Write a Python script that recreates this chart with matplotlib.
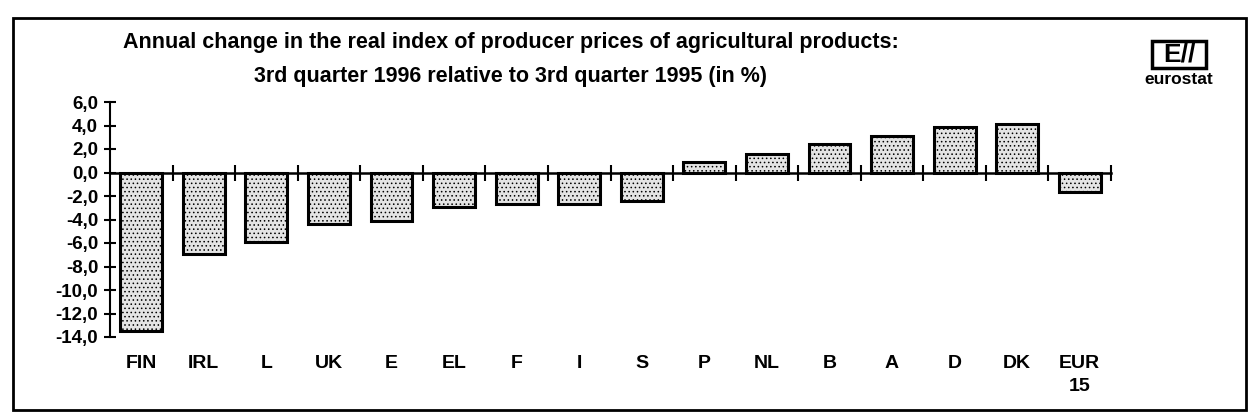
import matplotlib
matplotlib.use("Agg")
import matplotlib.pyplot as plt
from matplotlib.patches import Rectangle
from matplotlib.ticker import FuncFormatter
import matplotlib.transforms as mtransforms

# data
countries = ["FIN", "IRL", "L", "UK", "E", "EL", "F", "I", "S",
             "P", "NL", "B", "A", "D", "DK", "EUR\n15"]
change = [-13.5, -6.9, -5.9, -4.4, -4.1, -2.9, -2.7, -2.7, -2.4,
          0.9, 1.6, 2.4, 3.1, 3.9, 4.1, -1.7]
yticks = [6, 4, 2, 0, -2, -4, -6, -8, -10, -12, -14]

plt.rcParams['font.family'] = ['Liberation Sans', 'DejaVu Sans']
plt.rcParams['hatch.color'] = '#9a9a9a'
plt.rcParams['hatch.linewidth'] = 0.6

W, H = 1252, 420
fig = plt.figure(figsize=(W/100, H/100), dpi=100)
ax = fig.add_axes([110/W, 1-337/H, (1111-110)/W, (337-102)/H])

x = list(range(len(countries)))
ax.bar(x, change, width=0.67, facecolor='#e4e4e4', edgecolor='black',
       linewidth=2.2, hatch='....', zorder=2)

ax.set_xlim(-0.5, len(countries) - 0.5)
ax.set_ylim(-14, 6)
ax.set_yticks(yticks)
ax.yaxis.set_major_formatter(FuncFormatter(lambda v, p: ("%.1f" % v).replace(".", ",")))
ax.tick_params(axis='y', direction='inout', length=9, width=1.5, labelsize=13.5, pad=4)
for lab in ax.get_yticklabels():
    lab.set_fontweight('bold')

ax.set_xticks([i + 0.5 for i in x])
ax.tick_params(axis='x', direction='inout', length=11, width=1.5, labelbottom=False)

for s in ['top', 'right']:
    ax.spines[s].set_visible(False)
ax.spines['bottom'].set_position(('data', 0))
ax.spines['bottom'].set_linewidth(1.8)
ax.spines['bottom'].set_zorder(3)
ax.spines['left'].set_linewidth(1.5)
ax.spines['left'].set_bounds(-14, 6)

trans = mtransforms.blended_transform_factory(ax.transData, ax.transAxes)
for i, c in enumerate(countries):
    ax.text(i, -0.075, c, transform=trans, ha='center', va='top',
            fontsize=14, fontweight='bold', linespacing=1.5)

fig.text(0.408, 1-48/H, "Annual change in the real index of producer prices of agricultural products:",
         ha='center', va='baseline', fontsize=15.5, fontweight='bold')
fig.text(0.408, 1-82/H, "3rd quarter 1996 relative to 3rd quarter 1995 (in %)",
         ha='center', va='baseline', fontsize=15.5, fontweight='bold')

# frame around the whole chart
fig.patches.append(Rectangle((13/W, 10/H), (1246-13)/W, (405-13)/H,
                             transform=fig.transFigure, fill=False,
                             edgecolor='black', linewidth=2))

# eurostat logo
fig.patches.append(Rectangle((1152/W, 1-68/H), 54/W, 27/H,
                             transform=fig.transFigure, fill=False,
                             edgecolor='black', linewidth=2.5))
fig.text(1179/W, 1-55/H, "E//", ha='center', va='center',
         fontsize=19, fontweight='bold')
fig.text(1179/W, 1-80/H, "eurostat", ha='center', va='center',
         fontsize=12.5, fontweight='bold')

fig.savefig("out.png", dpi=100)
